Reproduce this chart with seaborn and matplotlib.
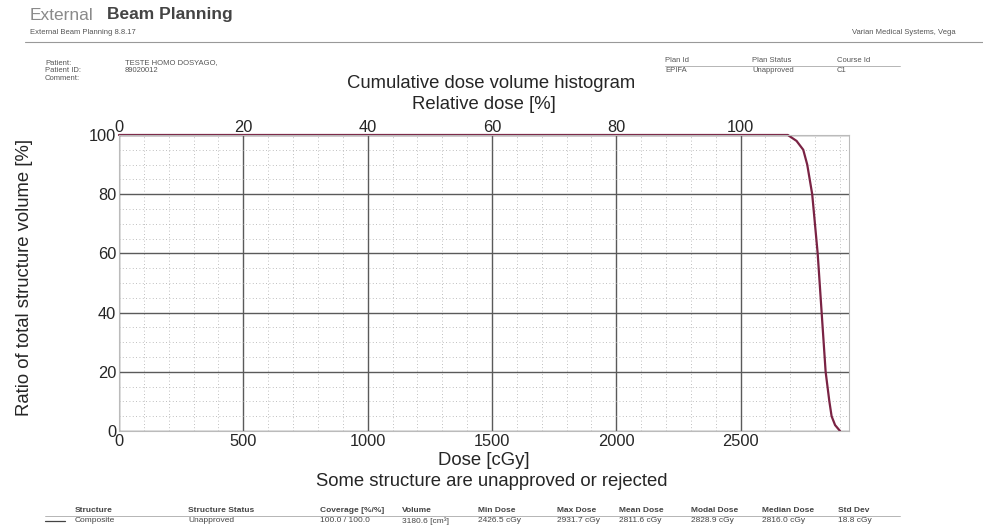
import matplotlib
matplotlib.use("Agg")
from matplotlib import pyplot as plt
from matplotlib.ticker import MultipleLocator
import seaborn as sns
import pandas as pd

# DVH curve
dose_cgy = [0, 2690, 2725, 2752, 2768, 2788, 2810, 2826, 2842, 2857, 2866, 2880, 2900]
volume_pct = [100, 100, 98, 95, 90, 80, 60, 40, 20, 10, 5, 2, 0]
prescription_cgy = 2500

rel_ticks = [0, 20, 40, 60, 80, 100]
dose_ticks = [0, 500, 1000, 1500, 2000, 2500]
vol_ticks = [0, 20, 40, 60, 80, 100]

header_left = ["Patient:", "Patient ID:", "Comment:"]
header_left_vals = ["TESTE HOMO DOSYAGO,", "89020012", ""]
plan_cols = ["Plan Id", "Plan Status", "Course Id"]
plan_vals = ["EPIFA", "Unapproved", "C1"]

table_cols = ["Structure", "Structure Status", "Coverage [%/%]", "Volume", "Min Dose",
              "Max Dose", "Mean Dose", "Modal Dose", "Median Dose", "Std Dev"]
table_vals = ["Composite", "Unapproved", "100.0 / 100.0", "3180.6 [cm³]", "2426.5 cGy",
              "2931.7 cGy", "2811.6 cGy", "2828.9 cGy", "2816.0 cGy", "18.8 cGy"]

df = pd.DataFrame({"dose": dose_cgy, "volume": volume_pct})

sns.set_style("white")
plt.rcParams["font.family"] = ["Liberation Sans", "DejaVu Sans"]

W, H = 983, 528
fig = plt.figure(figsize=(W / 100, H / 100), dpi=100)
ax = fig.add_axes([119 / W, 1 - 431 / H, 730 / W, 296 / H])

sns.lineplot(data=df, x="dose", y="volume", color="#7a2344", lw=1.6, ax=ax)
for ln in ax.get_lines():
    ln.set_clip_on(False)

ax.set_xlim(0, 2936)
ax.set_ylim(0, 100)
ax.set_xticks(dose_ticks)
ax.set_yticks(vol_ticks)
ax.xaxis.set_minor_locator(MultipleLocator(100))
ax.yaxis.set_minor_locator(MultipleLocator(5))
ax.grid(which="major", color="#5a5a5a", lw=1.0)
ax.grid(which="minor", color="#aaaaaa", lw=0.6, ls=(0, (1, 3)))
ax.tick_params(which="both", length=0, labelsize=11.8, pad=2)
for s in ax.spines.values():
    s.set_color("#bbbbbb")
    s.set_linewidth(0.8)

ax.set_xlabel("Dose [cGy]", fontsize=13.3, labelpad=2)
ax.set_ylabel("Ratio of total structure volume [%]", fontsize=13.3)
ax.yaxis.set_label_coords(-0.118, 0.52)

sec = ax.secondary_xaxis("top", functions=(lambda d: d / prescription_cgy * 100,
                                            lambda p: p * prescription_cgy / 100))
sec.set_xticks(rel_ticks)
sec.tick_params(length=0, labelsize=11.8, pad=0)
sec.spines["top"].set_visible(False)
sec.set_xlabel("Relative dose [%]", fontsize=13.3, labelpad=8)

fig.text(0.5, 1 - 83 / H, "Cumulative dose volume histogram", ha="center", va="center", fontsize=13.3)
fig.text(0.5, 1 - 482 / H, "Some structure are unapproved or rejected", ha="center", va="center", fontsize=13.3)

# report header
small = dict(fontsize=5.5, color="#555555", va="center")
fig.text(30 / W, 1 - 15 / H, "External", fontsize=12.5, color="#8a8a8a", va="center")
fig.text(107 / W, 1 - 15 / H, "Beam Planning", fontsize=12.5, color="#444444", weight="bold", va="center")
fig.text(30 / W, 1 - 33 / H, "External Beam Planning 8.8.17", **small)
fig.text(852 / W, 1 - 33 / H, "Varian Medical Systems, Vega", **small)
fig.add_artist(plt.Line2D([25 / W, 1.0], [1 - 42 / H, 1 - 42 / H], color="#999999", lw=0.8))

for i, (lab, val) in enumerate(zip(header_left, header_left_vals)):
    y = 1 - (63 + i * 7.5) / H
    fig.text(45 / W, y, lab, **small)
    fig.text(125 / W, y, val, **small)

for x, lab, val in zip([665, 752, 837], plan_cols, plan_vals):
    fig.text(x / W, 1 - 61 / H, lab, **small)
    fig.text(x / W, 1 - 70 / H, val, **small)
fig.add_artist(plt.Line2D([665 / W, 900 / W], [1 - 66 / H, 1 - 66 / H], color="#aaaaaa", lw=0.6))

# structure table
col_x = [75, 188, 320, 402, 478, 557, 619, 691, 762, 838]
for x, lab, val in zip(col_x, table_cols, table_vals):
    fig.text(x / W, 1 - 510 / H, lab, fontsize=6, color="#444444", weight="bold", va="center")
    fig.text(x / W, 1 - 521 / H, val, fontsize=6, color="#444444", va="center")
fig.add_artist(plt.Line2D([45 / W, 900 / W], [1 - 516 / H, 1 - 516 / H], color="#aaaaaa", lw=0.6))
fig.add_artist(plt.Line2D([45 / W, 65 / W], [1 - 521 / H, 1 - 521 / H], color="#444444", lw=0.9))

fig.savefig("out.png", dpi=100)
